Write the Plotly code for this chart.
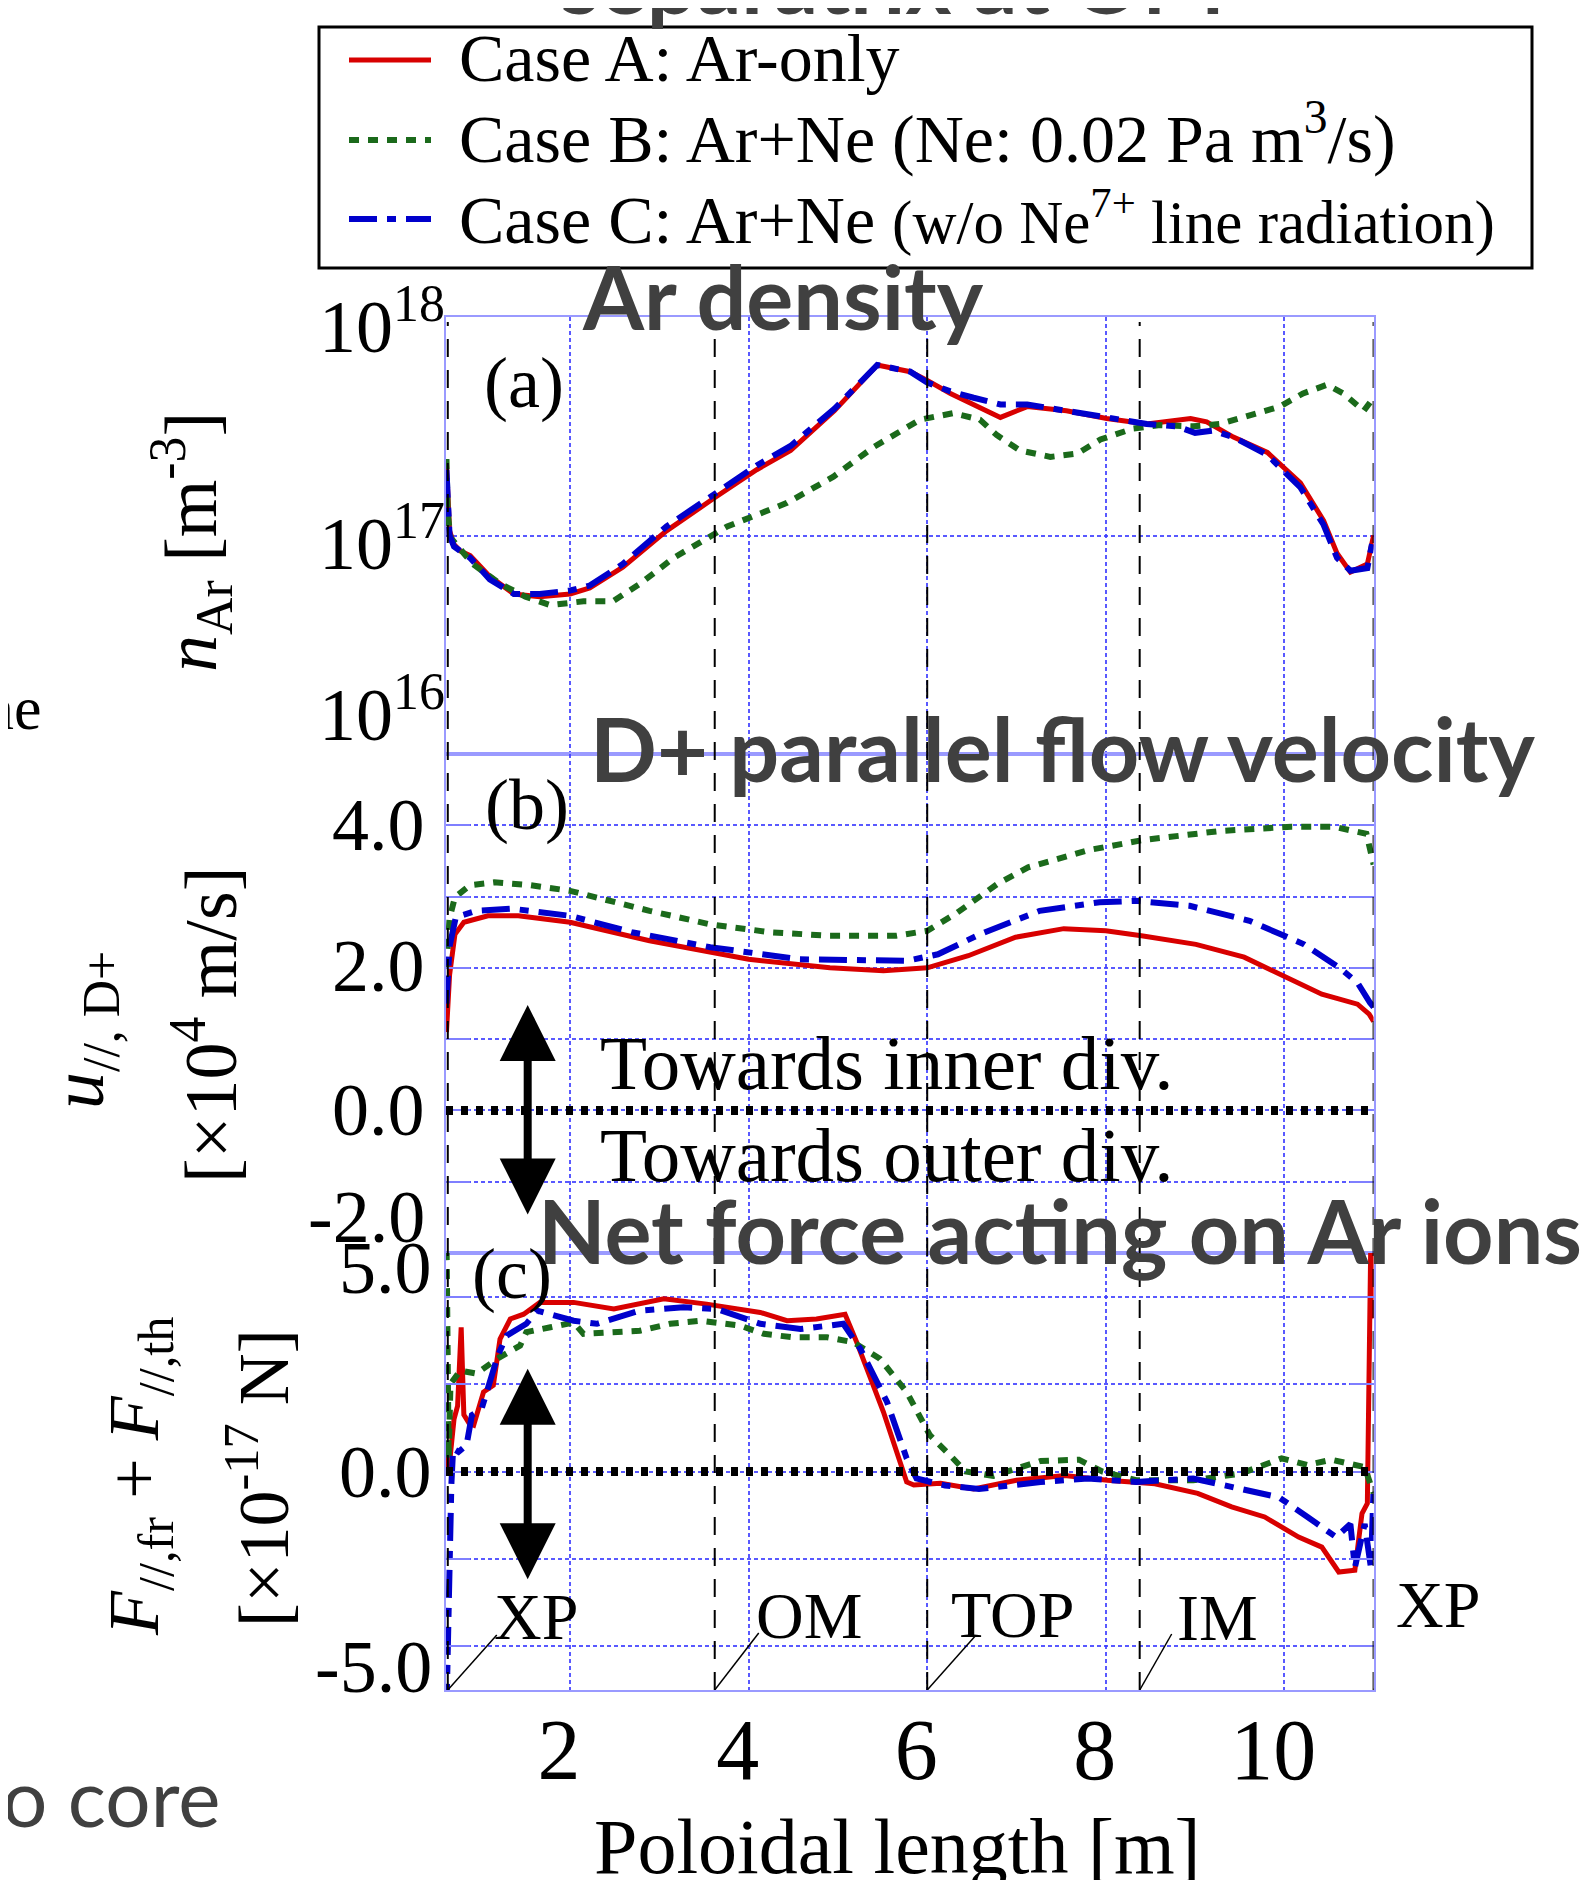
import plotly.graph_objects as go

# page body has an 8 px default margin, so the figure is drawn 8 px in from the corner
OFF = 8
W, H = 1596 - 2 * OFF, 1888 - 2 * OFF
SERIF = "Liberation Serif"
SANS = "Lato"

# ---------------- series ----------------
series_labels = [
    "Case A: Ar-only",
    "Case B: Ar+Ne (Ne: 0.02 Pa m<sup>3</sup>/s)",
    "Case C: Ar+Ne <span style='font-size:61px'>(w/o Ne<sup>7+</sup> line radiation)</span>",
]
series_names = ["Case A: Ar-only", "Case B: Ar+Ne (Ne: 0.02 Pa m3/s)", "Case C: Ar+Ne (w/o Ne7+ line radiation)"]
series_colors = ["#d80000", "#1b6a1b", "#0000cc"]
series_dash = ["solid", "10px,9px", "28px,10px,9px,10px"]
series_width = [5, 6, 6]

# ---------------- (a) Ar density n_Ar [m^-3] ----------------
a_x_A = [0.615, 0.63, 0.65, 0.70, 0.77, 0.88, 1.10, 1.37, 1.66, 2.00, 2.22, 2.59, 3.08, 3.61, 4.09, 4.47,
         4.96, 5.44, 5.81, 6.00, 6.26, 6.82, 7.12, 7.56, 8.01, 8.46, 8.95, 9.13, 9.43, 9.81, 10.18, 10.44,
         10.59, 10.74, 10.93, 11.00]
a_n_A = [2.14e17, 1.41e17, 1.05e17, 9.1e16, 8.5e16, 8.1e16, 6.5e16, 5.4e16, 5.25e16, 5.4e16, 5.75e16,
         7.16e16, 1.05e17, 1.48e17, 2.0e17, 2.45e17, 3.72e17, 6.03e17, 5.62e17, 5.13e17, 4.47e17, 3.47e17,
         3.89e17, 3.72e17, 3.43e17, 3.24e17, 3.43e17, 3.31e17, 2.82e17, 2.40e17, 1.74e17, 1.17e17, 8.3e16,
         6.8e16, 7.4e16, 1.0e17]
a_x_B = [0.615, 0.63, 0.66, 0.75, 0.91, 1.22, 1.50, 1.78, 2.15, 2.48, 2.78, 3.16, 3.76, 4.43, 4.95, 5.40,
         5.70, 5.92, 6.29, 6.59, 6.78, 7.04, 7.38, 7.68, 7.94, 8.31, 8.61, 8.98, 9.28, 9.62, 9.95, 10.21,
         10.48, 10.66, 10.89, 11.00]
a_n_B = [2.24e17, 1.26e17, 9.8e16, 8.9e16, 7.4e16, 6.0e16, 5.25e16, 4.8e16, 5.0e16, 5.0e16, 6.0e16, 7.9e16,
         1.10e17, 1.41e17, 1.86e17, 2.54e17, 3.02e17, 3.39e17, 3.63e17, 3.39e17, 2.88e17, 2.45e17, 2.29e17,
         2.37e17, 2.75e17, 3.09e17, 3.20e17, 3.16e17, 3.24e17, 3.55e17, 3.89e17, 4.47e17, 4.90e17, 4.47e17,
         3.72e17, 4.27e17]
a_x_C = [0.615, 0.63, 0.65, 0.70, 0.77, 0.88, 1.10, 1.37, 1.66, 2.00, 2.22, 2.59, 3.08, 3.61, 4.09, 4.47,
         4.96, 5.44, 5.81, 6.00, 6.26, 6.52, 6.82, 7.12, 7.56, 8.01, 8.46, 8.80, 9.00, 9.20, 9.43, 9.81,
         10.18, 10.44, 10.59, 10.74, 10.93, 11.00]
a_n_C = [2.0e17, 1.32e17, 1.0e17, 8.9e16, 8.5e16, 7.9e16, 6.3e16, 5.4e16, 5.4e16, 5.6e16, 5.9e16, 7.4e16,
         1.10e17, 1.55e17, 2.09e17, 2.57e17, 3.80e17, 6.03e17, 5.62e17, 5.01e17, 4.57e17, 4.27e17, 3.98e17,
         3.98e17, 3.72e17, 3.43e17, 3.24e17, 3.16e17, 2.95e17, 3.02e17, 2.82e17, 2.34e17, 1.66e17, 1.12e17,
         7.9e16, 6.9e16, 7.1e16, 1.0e17]

# ---------------- (b) D+ parallel flow velocity [x1e4 m/s] ----------------
b_x_A = [0.615, 0.65, 0.71, 0.81, 1.08, 1.42, 2.00, 2.89, 4.00, 4.91, 5.51, 6.00, 6.46, 6.99, 7.53, 8.00,
         8.40, 9.01, 9.55, 10.00, 10.42, 10.82, 10.95, 11.00]
b_u_A = [1.10, 1.90, 2.47, 2.64, 2.73, 2.73, 2.64, 2.38, 2.12, 2.00, 1.96, 2.00, 2.17, 2.43, 2.55, 2.52,
         2.45, 2.33, 2.15, 1.89, 1.63, 1.49, 1.35, 1.25]
b_x_B = [0.615, 0.65, 0.71, 0.88, 1.15, 1.55, 2.00, 2.89, 3.57, 4.24, 4.91, 5.65, 6.00, 6.32, 6.79, 7.13,
         7.80, 8.40, 9.28, 10.08, 10.55, 10.92, 11.00]
b_u_B = [2.00, 2.70, 2.99, 3.16, 3.20, 3.16, 3.08, 2.80, 2.61, 2.50, 2.45, 2.45, 2.52, 2.76, 3.18, 3.41,
         3.65, 3.79, 3.92, 3.98, 3.98, 3.88, 3.45]
b_x_C = [0.615, 0.65, 0.72, 0.95, 1.35, 2.00, 2.69, 3.57, 4.57, 5.25, 5.78, 6.12, 6.59, 7.26, 7.93, 8.34,
         8.94, 9.61, 10.22, 10.62, 10.82, 10.96, 11.00]
b_u_C = [1.50, 2.30, 2.71, 2.80, 2.83, 2.73, 2.50, 2.29, 2.12, 2.10, 2.10, 2.19, 2.47, 2.80, 2.92, 2.94,
         2.87, 2.66, 2.33, 2.00, 1.79, 1.51, 1.45]

# ---------------- (c) net force on Ar ions [x1e-17 N] ----------------
c_x_A = [0.615, 0.64, 0.66, 0.70, 0.74, 0.78, 0.81, 0.87, 0.92, 1.03, 1.14, 1.215, 1.33, 1.48, 1.66, 2.04,
         2.49, 3.05, 3.53, 4.13, 4.43, 4.76, 5.08, 5.21, 5.51, 5.77, 5.85, 6.15, 6.52, 7.00, 7.54, 8.02,
         8.55, 9.03, 9.41, 9.78, 10.16, 10.42, 10.61, 10.79, 10.87, 10.93, 10.97, 11.00]
c_f_A = [0.50, 0.00, 0.40, 1.20, 1.50, 3.30, 1.30, 1.10, 1.06, 1.82, 1.97, 3.03, 3.49, 3.60, 3.87, 3.87,
         3.72, 3.95, 3.83, 3.64, 3.45, 3.49, 3.60, 2.96, 1.36, -0.24, -0.31, -0.27, -0.40, -0.20, -0.09, -0.20,
         -0.28, -0.50, -0.81, -1.04, -1.50, -1.73, -2.30, -2.26, -0.96, -0.73, 5.50, 3.50]
c_x_B = [0.615, 0.625, 0.64, 0.66, 0.77, 0.95, 1.20, 1.44, 1.51, 1.78, 2.04, 2.15, 2.41, 2.78, 3.12, 3.46,
         3.90, 4.17, 4.50, 4.88, 5.17, 5.47, 5.77, 6.03, 6.27, 6.43, 6.74, 7.27, 7.70, 7.96, 8.34, 8.98,
         9.51, 9.97, 10.26, 10.53, 10.90, 11.00]
c_f_B = [5.50, 3.00, 0.30, 2.00, 2.31, 2.24, 2.60, 2.88, 3.19, 3.30, 3.41, 3.15, 3.19, 3.22, 3.38, 3.45,
         3.34, 3.15, 3.07, 3.07, 2.96, 2.58, 1.82, 0.83, 0.34, 0.00, -0.10, 0.24, 0.27, 0.00, -0.20, -0.20,
         -0.05, 0.30, 0.15, 0.27, 0.10, -0.50]
c_x_C = [0.615, 0.64, 0.67, 0.69, 0.75, 0.84, 0.90, 1.01, 1.19, 1.29, 1.51, 1.63, 2.04, 2.30, 2.78, 3.27,
         3.64, 4.13, 4.58, 5.06, 5.25, 5.55, 5.77, 5.88, 6.20, 6.58, 7.27, 7.80, 8.34, 8.98, 9.51, 9.94,
         10.26, 10.58, 10.74, 10.79, 10.90, 10.97, 11.00]
c_f_C = [-5.50, -2.10, -0.30, 0.52, 0.45, 0.60, 1.29, 1.44, 2.65, 3.11, 3.38, 3.68, 3.45, 3.38, 3.68, 3.76,
         3.72, 3.38, 3.26, 3.38, 2.81, 1.59, 0.30, -0.16, -0.32, -0.40, -0.24, -0.16, -0.24, -0.16, -0.40, -0.59,
         -1.04, -1.50, -1.20, -2.20, -1.20, -2.20, -0.35]

# ---------------- axes / ticks ----------------
x_range = [0.61, 11.0]
x_tickvals = [2, 4, 6, 8, 10]
x_ticktext = ["2", "4", "6", "8", "10"]
a_range_exp = [16, 18]
a_grid = [1e17]
a_tick_exp = [16, 17, 18]
a_tick_text = ["10<sup>16</sup>", "10<sup>17</sup>", "10<sup>18</sup>"]
b_range = [-2, 5]
b_grid = [-1, 0, 1, 2, 3, 4]
b_tick_vals = [-2, 0, 2, 4]
b_tick_text = ["-2.0", "0.0", "2.0", "4.0"]
c_range = [-5, 5]
c_grid = [-4, -2, 0, 2, 4]
c_tick_vals = [-5, 0, 5]
c_tick_text = ["-5.0", "0.0", "5.0"]

# poloidal position markers
marker_x = [0.63, 3.62, 6.0, 8.38, 11.0]
marker_labels = ["XP", "OM", "TOP", "IM", "XP"]

# ---------------- layout helpers (window pixel -> paper) ----------------
def PX(x):
    return (x - OFF) / W

def PY(y):
    return 1 - (y - OFF) / H

LEFT, RIGHT = 446, 1373.6
A_TOP, A_BOT = 317, 754
B_TOP, B_BOT = 754, 1253
C_TOP, C_BOT = 1253, 1690

GRID = "rgba(60,60,255,0.85)"
BORDER = "#9a9aff"

fig = go.Figure()

panels = [
    ("x", "y", [(a_x_A, a_n_A), (a_x_B, a_n_B), (a_x_C, a_n_C)]),
    ("x2", "y2", [(b_x_A, b_u_A), (b_x_B, b_u_B), (b_x_C, b_u_C)]),
    ("x3", "y3", [(c_x_A, c_f_A), (c_x_B, c_f_B), (c_x_C, c_f_C)]),
]
for xr, yr, data in panels:
    for i, (xs, ys) in enumerate(data):
        fig.add_trace(go.Scatter(
            x=xs, y=ys, mode="lines", name=series_names[i], xaxis=xr, yaxis=yr,
            line=dict(color=series_colors[i], width=series_width[i], dash=series_dash[i]),
            showlegend=False, hoverinfo="skip"))


def xaxis(anchor, show):
    return dict(domain=[PX(LEFT), PX(RIGHT)], range=x_range, anchor=anchor,
                tickvals=x_tickvals, ticktext=x_ticktext, showgrid=True, gridcolor=GRID,
                gridwidth=1.5, griddash="4px,3px", showline=True, linecolor=BORDER, linewidth=2,
                mirror=True, zeroline=False, ticks="", showticklabels=show,
                tickfont=dict(family=SERIF, size=86, color="black"),
                ticklabelstandoff=-16, ticklabelshift=-11, automargin=False)


def yaxis(anchor, dom, rng, grid, typ="linear", ticks=""):
    d = dict(domain=[PY(dom[1]), PY(dom[0])], range=rng, anchor=anchor, type=typ, tickvals=grid,
             showgrid=True, gridcolor=GRID, gridwidth=1.5, griddash="4px,3px", showline=True,
             linecolor=BORDER, linewidth=2, zeroline=False, showticklabels=False, ticks=ticks,
             automargin=False)
    if ticks:
        d.update(ticklen=24, tickwidth=2, tickcolor="#7f7fff", mirror="ticks")
    else:
        d.update(mirror=True)
    return d


fig.update_layout(
    width=W, height=H, margin=dict(l=0, r=0, t=0, b=0, autoexpand=False),
    paper_bgcolor="white", plot_bgcolor="white", showlegend=False,
    xaxis=xaxis("y", False), xaxis2=xaxis("y2", False), xaxis3=xaxis("y3", True),
    yaxis=yaxis("x", (A_TOP, A_BOT), a_range_exp, a_grid, typ="log"),
    yaxis2=yaxis("x2", (B_TOP, B_BOT), b_range, b_grid, ticks="inside"),
    yaxis3=yaxis("x3", (C_TOP, C_BOT), c_range, c_grid, ticks="inside"),
)

shapes = []
# vertical position markers
for mx in marker_x:
    shapes.append(dict(type="line", xref="x3", yref="paper", x0=mx, x1=mx, y0=PY(C_BOT), y1=PY(322),
                       line=dict(color="black", width=2, dash="18px,13px")))
# zero lines in (b) and (c)
for ax in ["2", "3"]:
    shapes.append(dict(type="line", xref="x%s domain" % ax, yref="y" + ax, x0=0, x1=1, y0=0, y1=0,
                       line=dict(color="black", width=9, dash="7px,8px")))
# leader lines for markers
leader_dx = [49, 44, 48, 32, 34]
leader_dy = [55, 57, 54, 56, 57]
label_dx = [88, 94, 86, 78, 64]
label_dy = [74, 75, 76, 73, 86]
for mx, dx, dy in zip(marker_x, leader_dx, leader_dy):
    shapes.append(dict(type="line", xref="x3", yref="y3", xsizemode="pixel", ysizemode="pixel",
                       xanchor=mx, yanchor=-5, x0=0, x1=dx, y0=0, y1=dy,
                       line=dict(color="black", width=1.5)))
# legend box + samples
shapes.append(dict(type="rect", xref="paper", yref="paper", x0=PX(319), x1=PX(1532), y0=PY(268), y1=PY(27),
                   line=dict(color="black", width=3), fillcolor="white", layer="above"))
legend_rows = [60, 140, 219]
legend_text_rows = [57.5, 134, 218]
for i, ry in enumerate(legend_rows):
    shapes.append(dict(type="line", xref="paper", yref="paper", x0=PX(349), x1=PX(431), y0=PY(ry), y1=PY(ry),
                       line=dict(color=series_colors[i], width=series_width[i], dash=series_dash[i]),
                       layer="above"))
fig.update_layout(shapes=shapes)

ann = []
def text(x, y, s, size, family=SERIF, color="black", xanchor="center", yanchor="middle", weight="normal",
         angle=0, **kw):
    d = dict(x=x, y=y, xref=kw.pop("xref", "paper"), yref=kw.pop("yref", "paper"), text=s, showarrow=False,
             xanchor=xanchor, yanchor=yanchor, textangle=angle,
             font=dict(family=family, size=size, color=color, weight=weight))
    d.update(kw)
    ann.append(d)

# legend texts
for i, ry in enumerate(legend_text_rows):
    text(PX(457), PY(ry), series_labels[i], 68, xanchor="left")

# slide titles (Calibri-like bold, dark gray)
DARK = "#404040"
text(PX(893), PY(-20), "separatrix at OM", 88, family=SANS, color=DARK, weight="bold")
text(PX(783), PY(296), "Ar density", 88, family=SANS, color=DARK, weight="bold")
text(PX(1063), PY(748), "D+ parallel flow velocity", 88, family=SANS, color=DARK, weight="bold")
text(PX(1060), PY(1230), "Net force acting on Ar ions", 88, family=SANS, color=DARK, weight="bold")
text(PX(222), PY(1796), "o core", 80, family=SANS, color=DARK, xanchor="right")
text(PX(44), PY(708), "ne", 62, xanchor="right")

# panel labels
text(PX(482), PY(383), "(a)", 72, xanchor="left")
text(PX(483), PY(805), "(b)", 72, xanchor="left")
text(PX(470), PY(1274), "(c)", 72, xanchor="left")

# y tick labels
a_shift = [45, -3, -5]
for v, t, s in zip(a_tick_exp, a_tick_text, a_shift):
    text(PX(447), v, t, 74, xanchor="right", yref="y", yshift=s)
b_shift = [36, 0, 2, 0]
for v, t, s in zip(b_tick_vals, b_tick_text, b_shift):
    text(PX(427), v, t, 74, xanchor="right", yref="y2", yshift=s)
c_shift = [23, 0, -15]
for v, t, s in zip(c_tick_vals, c_tick_text, c_shift):
    text(PX(434), v, t, 74, xanchor="right", yref="y3", yshift=s)

# y axis titles
text(PX(191), PY(542), "<i>n</i><sub>Ar</sub> [m<sup>-3</sup>]", 74, angle=-90)
text(PX(84), PY(1030), "<i>u</i><sub>//, D+</sub>", 74, angle=-90)
text(PX(206), PY(1025), "[×10<sup>4</sup> m/s]", 74, angle=-90)
text(PX(139), PY(1476), "<i>F</i><sub>//,fr</sub> + <i>F</i><sub>//,th</sub>", 72, angle=-90)
text(PX(258), PY(1478), "[×10<sup>-17</sup> N]", 72, angle=-90)

# x axis title
text(PX(897), PY(1846), "Poloidal length [m]", 78)

# direction arrows and texts
for xr, yr, tip, tail in [("x2", "y2", 1.48, -1.48), ("x3", "y3", 2.35, -2.5)]:
    ann.append(dict(x=1.525, y=tip, ax=1.525, ay=tail, xref=xr, yref=yr,
                    axref=xr, ayref=yr, text="", showarrow=True, arrowside="end+start",
                    arrowhead=2, startarrowhead=2, arrowsize=1.4, startarrowsize=1.4,
                    arrowwidth=8, arrowcolor="black"))
text(PX(598), PY(1063), "Towards inner div.", 77, xanchor="left")
text(PX(598), PY(1155), "Towards outer div.", 77, xanchor="left")

# marker labels
for mx, lab, dx, dy in zip(marker_x, marker_labels, label_dx, label_dy):
    text(mx, -5, lab, 66, xref="x3", yref="y3", xshift=dx, yshift=dy)

fig.update_layout(annotations=ann)
fig.write_html("out.html")
